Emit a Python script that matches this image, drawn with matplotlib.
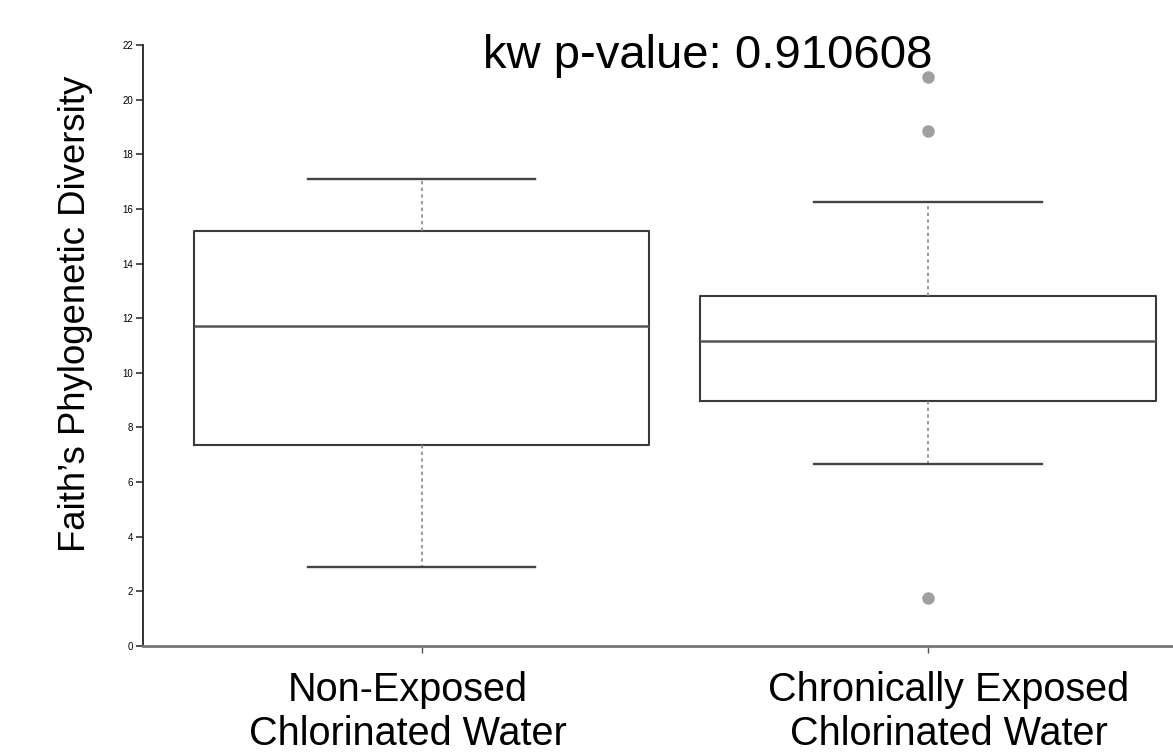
import matplotlib
matplotlib.use("Agg")
import matplotlib.pyplot as plt

# values
groups = ["Non-Exposed\nChlorinated Water", "Chronically Exposed\nChlorinated Water"]
medians = [11.72, 11.17]
q1s = [7.34, 8.97]
q3s = [15.2, 12.82]
whis_lo = [2.89, 6.67]
whis_hi = [17.1, 16.26]
outliers = [[], [20.84, 18.86, 1.76]]
pvalue = 0.910608

plt.rcParams['font.family'] = ['Liberation Sans', 'DejaVu Sans']

fig = plt.figure(figsize=(11.73, 7.56), dpi=100)
ax = fig.add_axes([0.1219, 0.1455, 0.8781, 0.795])

positions = [1, 2]
stats = []
for i in range(len(groups)):
    stats.append({
        "med": medians[i], "q1": q1s[i], "q3": q3s[i],
        "whislo": whis_lo[i], "whishi": whis_hi[i],
        "fliers": outliers[i],
    })

ax.bxp(stats, positions=positions, widths=0.9, capwidths=0.45,
       boxprops=dict(color="#3a3a3a", linewidth=1.5),
       medianprops=dict(color="#555555", linewidth=1.8),
       whiskerprops=dict(color="#888888", linewidth=1.2, linestyle=(0, (2, 2))),
       capprops=dict(color="#444444", linewidth=1.7),
       flierprops=dict(marker="o", markerfacecolor="#a0a0a0",
                       markeredgecolor="#a0a0a0", markersize=8))

ax.set_xlim(0.45, 2.484)
ax.set_ylim(0, 22)
ax.set_yticks(range(0, 23, 2))
ax.set_xticks(positions)
ax.set_xticklabels([])

# group names sit a bit off their ticks in the original
shifts = [-13.5, 21]
for pos, name, dx in zip(positions, groups, shifts):
    ax.annotate(name, xy=(pos, 0), xycoords=("data", "axes fraction"),
                xytext=(dx, -25), textcoords="offset pixels",
                ha="center", va="top", fontsize=28.5, linespacing=1.2)

for lab in ax.get_yticklabels():
    lab.set_family(['Liberation Sans Narrow', 'Liberation Sans'])
    lab.set_fontsize(7)
ax.tick_params(axis="y", length=5, width=1.2, color="#333333", pad=2)
ax.tick_params(axis="x", length=5, width=1, color="#555555")

ax.spines["top"].set_visible(False)
ax.spines["right"].set_visible(False)
ax.spines["left"].set_color("#222222")
ax.spines["left"].set_linewidth(1.3)
ax.spines["bottom"].set_color("#777777")
ax.spines["bottom"].set_linewidth(2)

fig.text(0.6036, 1 - 68 / 756, f"kw p-value: {pvalue}", fontsize=34,
         ha="center", va="baseline")
fig.text(0.0645, 0.585, "Faith\u2019s Phylogenetic Diversity", fontsize=26.3,
         rotation=90, ha="center", va="center")

fig.savefig("out.png", dpi=100)
